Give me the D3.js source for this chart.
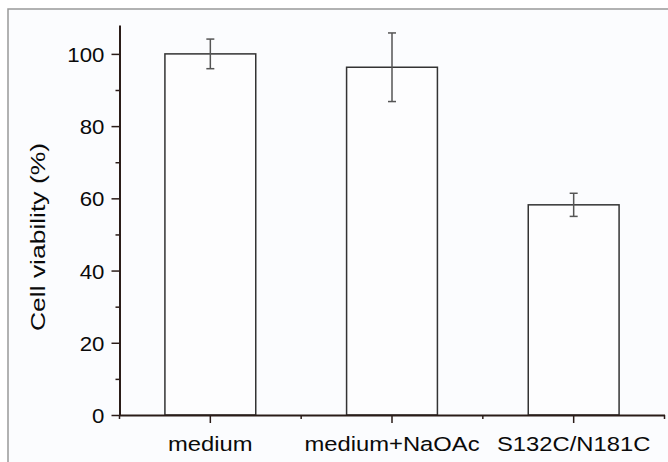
<!DOCTYPE html>
<html>
<head>
<meta charset="utf-8">
<script src="https://cdn.jsdelivr.net/npm/d3@7"></script>
<style>
  body { margin: 0; background: #fff; }
  text { font-family: "Liberation Sans", Arial, sans-serif; fill: #0a0a0a; }
</style>
</head>
<body>
<svg id="chart" width="668" height="462"></svg>
<script>
var categories = ["medium", "medium+NaOAc", "S132C/N181C"];
var viability = [100, 96.3, 58.2];
var errors = [4.1, 9.5, 3.2];
var yTicks = [0, 20, 40, 60, 80, 100];
var yMinorTicks = [10, 30, 50, 70, 90];

var data = categories.map(function(c, i) {
  return {name: c, value: viability[i], err: errors[i]};
});

var svg = d3.select("#chart");
var axisColor = "#2a1c18";

// frame of the figure panel
svg.append("rect")
    .attr("x", 8).attr("y", 9)
    .attr("width", 680).attr("height", 470)
    .attr("fill", "#fbfcfe")
    .attr("stroke", "#999")
    .attr("stroke-width", 1.5);

var plotLeft = 119.5, plotRight = 664.5, plotTop = 25, plotBottom = 415;

var x = d3.scaleBand()
    .domain(categories)
    .range([plotLeft, plotRight])
    .paddingInner(0.5)
    .paddingOuter(0.25);

var y = d3.scaleLinear()
    .domain([0, 108])
    .range([plotBottom, plotTop]);

// bars
svg.selectAll(".bar")
  .data(data)
  .enter().append("rect")
    .attr("class", "bar")
    .attr("x", function(d) { return x(d.name); })
    .attr("y", function(d) { return y(d.value); })
    .attr("width", x.bandwidth())
    .attr("height", function(d) { return y(0) - y(d.value); })
    .attr("fill", "#fdfdfe")
    .attr("stroke", "#333")
    .attr("stroke-width", 1.5);

// error bars
var eb = svg.selectAll(".err")
  .data(data)
  .enter().append("g")
    .attr("class", "err")
    .attr("stroke", "#555")
    .attr("stroke-width", 1.5);

function cx(d) { return x(d.name) + x.bandwidth() / 2; }

eb.append("line")
    .attr("x1", cx)
    .attr("x2", cx)
    .attr("y1", function(d) { return y(d.value + d.err); })
    .attr("y2", function(d) { return y(d.value - d.err); });

[1, -1].forEach(function(s) {
  eb.append("line")
      .attr("x1", function(d) { return cx(d) - 4; })
      .attr("x2", function(d) { return cx(d) + 4; })
      .attr("y1", function(d) { return y(d.value + s * d.err); })
      .attr("y2", function(d) { return y(d.value + s * d.err); });
});

// y axis
var yAxis = svg.append("g")
    .attr("transform", "translate(" + plotLeft + ",0)")
    .call(d3.axisLeft(y).tickValues(yTicks).tickSize(8).tickSizeOuter(0));
svg.append("g")
    .attr("transform", "translate(" + plotLeft + ",0)")
    .call(d3.axisLeft(y).tickValues(yMinorTicks).tickSize(4).tickFormat("").tickSizeOuter(0))
    .select(".domain").remove();

// x axis
var xAxis = svg.append("g")
    .attr("transform", "translate(0," + plotBottom + ")")
    .call(d3.axisBottom(x).tickSize(8).tickSizeOuter(0));

// minor ticks at category boundaries
var edges = d3.range(categories.length + 1).map(function(i) {
  return plotLeft + i * x.step();
});
svg.append("g")
    .selectAll("line")
    .data(edges)
    .enter().append("line")
      .attr("x1", function(d) { return d; })
      .attr("x2", function(d) { return d; })
      .attr("y1", plotBottom)
      .attr("y2", plotBottom + 4)
      .attr("stroke", axisColor)
      .attr("stroke-width", 1.5);

svg.selectAll(".domain").attr("stroke", axisColor).attr("stroke-width", 2);
svg.selectAll(".tick line").attr("stroke", axisColor).attr("stroke-width", 1.5);

yAxis.selectAll("text")
    .attr("x", null)
    .attr("transform", "translate(-15,0) scale(1.06,1)")
    .attr("dy", "0.36em")
    .style("font-size", "21px");

xAxis.selectAll("text")
    .attr("y", null)
    .attr("transform", "translate(0,22) scale(1.22,1)")
    .attr("dy", "0.71em")
    .style("font-size", "19.5px");

svg.append("text")
    .attr("transform", "translate(45,237) rotate(-90) scale(1.29,1)")
    .attr("text-anchor", "middle")
    .style("font-size", "20.5px")
    .text("Cell viability (%)");
</script>
</body>
</html>
